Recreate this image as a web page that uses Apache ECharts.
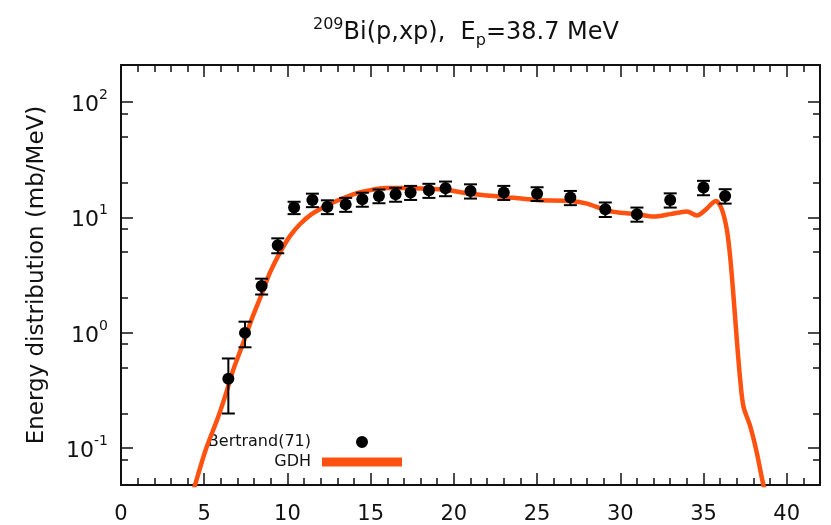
<!DOCTYPE html>
<html>
<head>
<meta charset="utf-8">
<script src="https://cdn.jsdelivr.net/npm/echarts@6/dist/echarts.min.js"></script>
<style>
  html, body { margin: 0; padding: 0; background: #fff; }
  #chart { width: 831px; height: 525px; }
</style>
</head>
<body>
<div id="chart"></div>
<script>
// measured points, Bertrand(71)
const energy = [6.45, 7.45, 8.45, 9.42, 10.4, 11.5, 12.4, 13.5, 14.5, 15.5, 16.5, 17.4, 18.5, 19.5, 21.0, 23.0, 25.0, 27.0, 29.1, 31.0, 33.0, 35.0, 36.3];
const sigma = [0.40, 1.0, 2.55, 5.75, 12.2, 14.2, 12.4, 13.0, 14.4, 15.4, 15.9, 16.5, 17.2, 17.9, 17.0, 16.5, 16.1, 14.9, 11.8, 10.7, 14.2, 18.2, 15.4];
const sigmaErr = [0.2, 0.25, 0.4, 0.85, 1.5, 1.9, 1.7, 1.8, 2.0, 2.1, 2.2, 2.3, 2.4, 2.6, 2.4, 2.3, 2.2, 2.1, 1.7, 1.5, 2.0, 2.6, 2.2];

// GDH calculation
const gdhE = [4.3, 4.45, 5.1, 5.8, 6.25, 6.75, 7.35, 7.85, 8.45, 8.95, 9.55, 10.15, 10.75, 11.45, 12.15, 12.95, 13.95, 14.75, 15.95, 17.0, 18.5, 19.5, 21.0, 23.0, 25.0, 27.0, 28.0, 29.1, 30.0, 31.0, 32.0, 33.0, 34.0, 34.6, 35.1, 35.75, 36.1, 36.4, 36.6, 36.8, 37.0, 37.2, 37.4, 37.8, 38.2, 38.6, 38.8];
const gdhSigma = [0.04, 0.048, 0.098, 0.18, 0.28, 0.48, 0.82, 1.31, 2.16, 3.33, 4.97, 6.9, 8.75, 10.7, 12.2, 13.9, 15.9, 17.0, 18.0, 18.0, 17.8, 17.4, 16.1, 15.1, 14.2, 13.9, 13.2, 11.6, 11.0, 10.7, 10.2, 10.7, 11.3, 10.4, 11.6, 13.9, 11.8, 7.9, 4.6, 2.1, 0.88, 0.40, 0.23, 0.156, 0.092, 0.048, 0.04];

const xMajorTicks = [0, 5, 10, 15, 20, 25, 30, 35, 40];
const xMinorTicks = [1, 2, 3, 4, 6, 7, 8, 9, 11, 12, 13, 14, 16, 17, 18, 19, 21, 22, 23, 24, 26, 27, 28, 29, 31, 32, 33, 34, 36, 37, 38, 39, 41];
const yMajorTicks = [0.1, 1, 10, 100];
const yMinorTicks = [0.08, 0.2, 0.5, 0.8, 2, 5, 8, 20, 50, 80];

const ink = '#111';
const orange = '#ff5210';
const font = 'DejaVu Sans, sans-serif';

// legend dot centred in an 80x12 box, like the gnuplot key
const dotIcon = 'path://M0,6L0.01,6M80,6L79.99,6M46,6A6,6,0,1,1,34,6A6,6,0,1,1,46,6Z';

const chart = echarts.init(document.getElementById('chart'));

function xAxisDef(pos, ticks, len, withLine, withLabels) {
  return {
    type: 'value', position: pos, min: 0, max: 42,
    axisLine: { show: withLine, onZero: false, lineStyle: { color: ink, width: 2 } },
    axisTick: { show: true, inside: true, length: len, customValues: ticks, lineStyle: { color: ink, width: 1.5 } },
    axisLabel: withLabels
      ? { show: true, customValues: ticks, margin: 19, color: ink, fontSize: 21, fontFamily: font }
      : { show: false },
    splitLine: { show: false }
  };
}

function yAxisDef(pos, ticks, len, withLine, withLabels) {
  const ax = {
    type: 'log', logBase: 10, position: pos, min: 0.048, max: 210,
    axisLine: { show: withLine, onZero: false, lineStyle: { color: ink, width: 2 } },
    axisTick: { show: true, inside: true, length: len, customValues: ticks, lineStyle: { color: ink, width: 1.5 } },
    axisLabel: { show: false },
    splitLine: { show: false }
  };
  if (withLabels) {
    ax.axisLabel = {
      show: true, customValues: ticks, margin: 13,
      formatter: v => '{b|10}{s|' + Math.round(Math.log10(v)) + '}',
      rich: {
        b: { fontSize: 22, color: ink, fontFamily: font, verticalAlign: 'bottom', lineHeight: 28 },
        s: { fontSize: 14, color: ink, fontFamily: font, verticalAlign: 'top', lineHeight: 14 }
      }
    };
    ax.name = 'Energy distribution (mb/MeV)';
    ax.nameLocation = 'middle';
    ax.nameGap = 72;
    ax.nameTextStyle = { fontSize: 23, color: ink, fontFamily: font };
  }
  return ax;
}

const option = {
  backgroundColor: '#fff',
  animation: false,
  title: {
    text: '{s|209}{n|Bi(p,xp),  E}{p|p}{n|=38.7 MeV}',
    left: 308, top: 12,
    textStyle: {
      rich: {
        s: { fontSize: 16, color: ink, fontFamily: font, fontWeight: 'normal', verticalAlign: 'top', lineHeight: 16 },
        n: { fontSize: 24, color: ink, fontFamily: font, fontWeight: 'normal', verticalAlign: 'middle', lineHeight: 32 },
        p: { fontSize: 16, color: ink, fontFamily: font, fontWeight: 'normal', verticalAlign: 'bottom', lineHeight: 14 }
      }
    }
  },
  grid: { left: 121, right: 11, top: 65, bottom: 40 },
  legend: [
    {
      data: [{ name: 'Bertrand(71)', icon: dotIcon }],
      right: 429, top: 434, padding: 0, z: 1,
      align: 'right', itemWidth: 80, itemHeight: 12, selectedMode: false,
      itemStyle: { color: '#000' },
      textStyle: { fontSize: 16, color: ink, fontFamily: font, padding: [0, 6, 0, 0] }
    },
    {
      data: [{ name: 'GDH', icon: 'rect' }],
      right: 429, top: 454, padding: 0, z: 1,
      align: 'right', itemWidth: 80, itemHeight: 9, selectedMode: false,
      itemStyle: { color: orange },
      textStyle: { fontSize: 16, color: ink, fontFamily: font, padding: [0, 6, 0, 0] }
    }
  ],
  xAxis: [
    xAxisDef('bottom', xMajorTicks, 12, true, true),
    xAxisDef('bottom', xMinorTicks, 7, false, false),
    xAxisDef('top', xMajorTicks, 12, true, false),
    xAxisDef('top', xMinorTicks, 7, false, false)
  ],
  yAxis: [
    yAxisDef('left', yMajorTicks, 12, true, true),
    yAxisDef('left', yMinorTicks, 7, false, false),
    yAxisDef('right', yMajorTicks, 12, true, false),
    yAxisDef('right', yMinorTicks, 7, false, false)
  ],
  series: [
    {
      name: 'GDH',
      type: 'line',
      data: gdhE.map((e, i) => [e, gdhSigma[i]]),
      showSymbol: false,
      smooth: 0.3,
      clip: true,
      z: 2,
      lineStyle: { color: orange, width: 4.5 },
      itemStyle: { color: orange }
    },
    {
      name: 'errors',
      type: 'custom',
      z: 3,
      data: energy.map((e, i) => [e, sigma[i] - sigmaErr[i], sigma[i] + sigmaErr[i]]),
      encode: { x: 0, y: [1, 2] },
      renderItem: (params, api) => {
        const lo = api.coord([api.value(0), api.value(1)]);
        const hi = api.coord([api.value(0), api.value(2)]);
        const w = 6.5;
        const st = { stroke: '#000', lineWidth: 2 };
        return {
          type: 'group',
          children: [
            { type: 'line', shape: { x1: lo[0], y1: lo[1], x2: hi[0], y2: hi[1] }, style: st },
            { type: 'line', shape: { x1: lo[0] - w, y1: lo[1], x2: lo[0] + w, y2: lo[1] }, style: st },
            { type: 'line', shape: { x1: hi[0] - w, y1: hi[1], x2: hi[0] + w, y2: hi[1] }, style: st }
          ]
        };
      }
    },
    {
      name: 'Bertrand(71)',
      type: 'scatter',
      data: energy.map((e, i) => [e, sigma[i]]),
      symbol: 'circle',
      symbolSize: 12,
      z: 4,
      itemStyle: { color: '#000', opacity: 1 }
    }
  ]
};

chart.setOption(option);
</script>
</body>
</html>
